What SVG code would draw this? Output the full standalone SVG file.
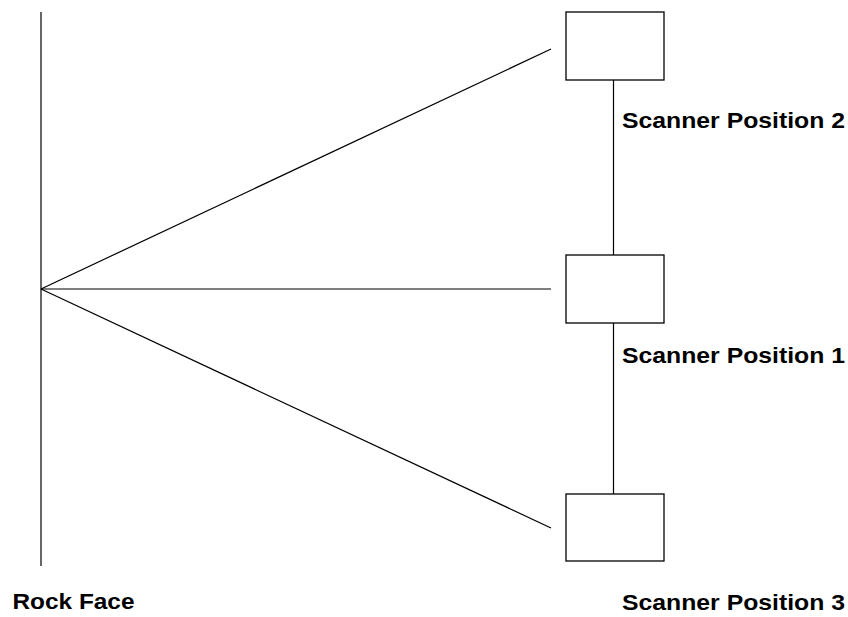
<svg xmlns="http://www.w3.org/2000/svg" width="848" height="617" viewBox="0 0 848 617">
<style>
.box{fill:#fff;stroke:#000;stroke-width:1.3}
.ln{stroke:#000;stroke-width:1.2;fill:none}
.lbl{font-family:"Liberation Sans",Arial,sans-serif;font-weight:bold;font-size:21.5px;fill:#000}
</style>
<rect width="848" height="617" fill="#fff"/>
<g id="connectors">
<line class="ln" x1="41" y1="12" x2="41" y2="566"/>
<line class="ln" x1="41" y1="289" x2="551" y2="49"/>
<line class="ln" x1="41" y1="289" x2="551" y2="289"/>
<line class="ln" x1="41" y1="289" x2="551" y2="528"/>
<line class="ln" x1="613.5" y1="80" x2="613.5" y2="255"/>
<line class="ln" x1="613.5" y1="323" x2="613.5" y2="494"/>
</g>
<g id="scanner2"><rect class="box" x="566" y="12" width="98" height="68"/></g>
<g id="scanner1"><rect class="box" x="566" y="255" width="98" height="68"/></g>
<g id="scanner3"><rect class="box" x="566" y="494" width="98" height="67"/></g>
<g id="labels">
<text class="lbl" x="622" y="127.5" textLength="223" lengthAdjust="spacingAndGlyphs">Scanner Position 2</text>
<text class="lbl" x="622" y="362.5" textLength="223" lengthAdjust="spacingAndGlyphs">Scanner Position 1</text>
<text class="lbl" x="622" y="610" textLength="223" lengthAdjust="spacingAndGlyphs">Scanner Position 3</text>
<text class="lbl" x="12.5" y="609" font-size="22px" textLength="122" lengthAdjust="spacingAndGlyphs">Rock Face</text>
</g>
</svg>
